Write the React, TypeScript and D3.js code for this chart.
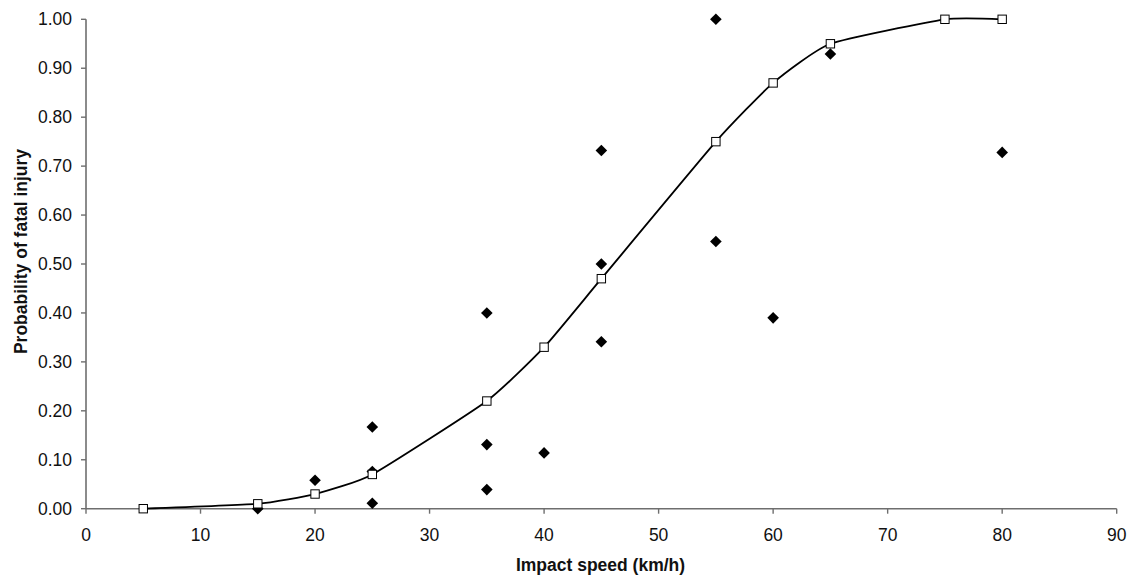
import React from "react";
import * as d3 from "d3";

const curveSpeeds = [5, 15, 20, 25, 35, 40, 45, 55, 60, 65, 75, 80];
const curveProb = [0.0, 0.01, 0.03, 0.07, 0.22, 0.33, 0.47, 0.75, 0.87, 0.95, 1.0, 1.0];

const obsSpeeds = [15, 20, 25, 25, 25, 35, 35, 35, 40, 45, 45, 45, 55, 55, 60, 65, 80];
const obsProb = [0.0, 0.058, 0.167, 0.011, 0.076, 0.40, 0.131, 0.039, 0.114, 0.732, 0.50, 0.341, 1.0, 0.546, 0.39, 0.929, 0.728];

const xTicks = [0, 10, 20, 30, 40, 50, 60, 70, 80, 90];
const yTicks = [0, 0.1, 0.2, 0.3, 0.4, 0.5, 0.6, 0.7, 0.8, 0.9, 1.0];

const xTitle = "Impact speed (km/h)";
const yTitle = "Probability of fatal injury";

export default function App() {
  const W = 1135, H = 576;
  const x = d3.scaleLinear().domain([0, 90]).range([86, 1116.7]);
  const y = d3.scaleLinear().domain([0, 1]).range([508.7, 19.3]);
  const font = "'Liberation Sans', Arial, sans-serif";
  const axisColor = "#6e6e6e";

  const line = d3
    .line<number>()
    .x((_, i) => x(curveSpeeds[i]))
    .y((d) => y(d))
    .curve(d3.curveCardinal.tension(0.5));

  const dR = 5.8;
  const sq = 4.2;

  return (
    <svg
      width={W}
      height={H}
      style={{ position: "absolute", left: 0, top: 0, background: "#fff" }}
    >
      <rect x={0} y={0} width={W} height={H} fill="#fff" />
      {/* axes */}
      <line x1={x(0)} x2={x(90)} y1={y(0)} y2={y(0)} stroke={axisColor} strokeWidth={1.6} />
      <line x1={x(0)} x2={x(0)} y1={y(0)} y2={y(1)} stroke={axisColor} strokeWidth={1.6} />
      {yTicks.map((t) => (
        <g key={"y" + t}>
          <line x1={x(0) - 5} x2={x(0)} y1={y(t)} y2={y(t)} stroke={axisColor} strokeWidth={1.4} />
          <text
            x={72}
            y={y(t) + 6}
            textAnchor="end"
            fontFamily={font}
            fontSize={17.5}
            fill="#111"
          >
            {t.toFixed(2)}
          </text>
        </g>
      ))}
      {xTicks.map((t) => (
        <g key={"x" + t}>
          <line x1={x(t)} x2={x(t)} y1={y(0)} y2={y(0) + 5} stroke={axisColor} strokeWidth={1.4} />
          <text
            x={x(t)}
            y={541}
            textAnchor="middle"
            fontFamily={font}
            fontSize={17.5}
            fill="#111"
          >
            {t}
          </text>
        </g>
      ))}
      {/* titles */}
      <text
        x={600.5}
        y={570.5}
        textAnchor="middle"
        fontFamily={font}
        fontWeight="bold"
        fontSize={17.5}
        fill="#111"
      >
        {xTitle}
      </text>
      <text
        transform={`translate(27,${251.5}) rotate(-90)`}
        textAnchor="middle"
        fontFamily={font}
        fontWeight="bold"
        fontSize={17.5}
        fill="#111"
      >
        {yTitle}
      </text>
      {/* observed diamonds */}
      {obsSpeeds.map((s, i) => {
        const cx = x(s), cy = y(obsProb[i]);
        return (
          <path
            key={"d" + i}
            d={`M${cx},${cy - dR}L${cx + dR},${cy}L${cx},${cy + dR}L${cx - dR},${cy}Z`}
            fill="#000"
          />
        );
      })}
      {/* fitted curve */}
      <path d={line(curveProb) || ""} fill="none" stroke="#000" strokeWidth={1.8} />
      {curveSpeeds.map((s, i) => (
        <rect
          key={"s" + i}
          x={x(s) - sq}
          y={y(curveProb[i]) - sq}
          width={sq * 2}
          height={sq * 2}
          fill="#fff"
          stroke="#000"
          strokeWidth={1}
        />
      ))}
    </svg>
  );
}
